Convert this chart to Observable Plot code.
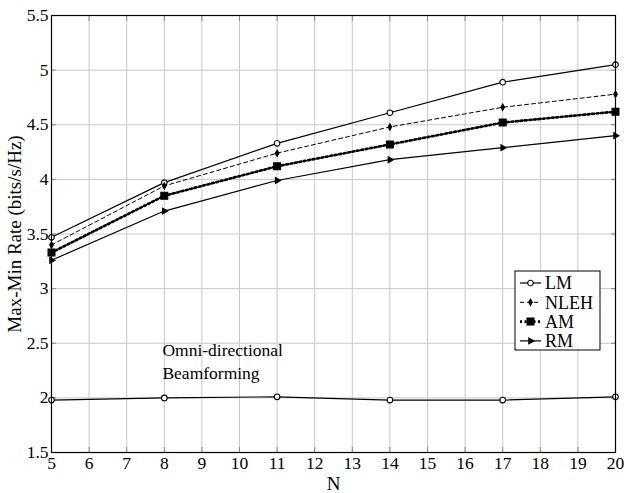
<!DOCTYPE html>
<html><head><meta charset="utf-8">
<script src="https://cdn.jsdelivr.net/npm/d3@7"></script>
<script src="https://cdn.jsdelivr.net/npm/@observablehq/plot@0.6"></script>
<style>
body{margin:0;background:#fff;}
#wrap{position:relative;width:624px;height:493px;font-family:"Liberation Serif","Times New Roman","DejaVu Serif",serif;}
#wrap svg text{font-family:"Liberation Serif","Times New Roman","DejaVu Serif",serif !important;}
#legend{position:absolute;left:0;top:0;}
</style>
</head><body><div id="wrap"></div>
<script>
const N = [5, 8, 11, 14, 17, 20];
const LM = [3.47, 3.97, 4.33, 4.61, 4.89, 5.05];
const NLEH = [3.40, 3.94, 4.24, 4.48, 4.66, 4.78];
const AM = [3.33, 3.85, 4.12, 4.32, 4.52, 4.62];
const RM = [3.26, 3.71, 3.99, 4.18, 4.29, 4.40];
const OMNI_LM = [1.98, 2.00, 2.01, 1.98, 1.98, 2.01];
const xTicks = d3.range(5, 21, 1);
const yTicks = [1.5, 2, 2.5, 3, 3.5, 4, 4.5, 5, 5.5];
const annotation = [{x: 7.95, y: 2.345, text: "Omni-directional\nBeamforming"}];

const FONT = "'Liberation Serif', 'Times New Roman', 'DejaVu Serif', serif";
const FS = 17.5;
const seriesDefs = [
  {name: "LM", values: LM, dash: null, width: 1.2, symbol: "circle", r: 2.8, fill: "white", rotate: 0},
  {name: "NLEH", values: NLEH, dash: "4,3", width: 1, symbol: "diamond", r: 1.9, fill: "black", rotate: 0},
  {name: "AM", values: AM, dash: "2,2.5", width: 2.6, symbol: "square", r: 3.9, fill: "black", rotate: 0},
  {name: "RM", values: RM, dash: null, width: 1.2, symbol: "triangle", r: 2.2, fill: "black", rotate: 90}
];
const toRows = (vals, name) => N.map((n, i) => ({N: n, v: vals[i], s: name}));

const marks = [
  Plot.gridX(xTicks, {stroke: "#c8c8c8", strokeOpacity: 1}),
  Plot.gridY(yTicks, {stroke: "#c8c8c8", strokeOpacity: 1}),
  Plot.axisX(xTicks, {anchor: "bottom", tickSize: 0, tickPadding: 4, fontSize: FS, tickFormat: d => d, label: null}),
  Plot.axisY(yTicks, {anchor: "left", tickSize: 0, tickPadding: 3, fontSize: FS, tickFormat: d => d, label: null}),
  Plot.axisX(xTicks, {anchor: "bottom", tickSize: 0, text: null, fontSize: 19, label: "N", labelAnchor: "center", labelOffset: 37, labelArrow: "none"}),
  Plot.axisY(yTicks, {anchor: "left", tickSize: 0, text: null, fontSize: 19, label: "Max-Min Rate (bits/s/Hz)", labelAnchor: "center", labelOffset: 44, labelArrow: "none"}),
  Plot.axisX(xTicks, {anchor: "bottom", tickSize: -5, text: null, label: null, stroke: "#888"}),
  Plot.axisX(xTicks, {anchor: "top", tickSize: -5, text: null, label: null, stroke: "#888"}),
  Plot.axisY(yTicks, {anchor: "left", tickSize: -5, text: null, label: null, stroke: "#888"}),
  Plot.axisY(yTicks, {anchor: "right", tickSize: -5, text: null, label: null, stroke: "#888"}),
];
for (const s of seriesDefs) {
  const rows = toRows(s.values, s.name);
  marks.push(Plot.line(rows, {x: "N", y: "v", stroke: "black", strokeWidth: s.width, strokeDasharray: s.dash}));
}
marks.push(Plot.line(toRows(OMNI_LM, "LM"), {x: "N", y: "v", stroke: "black", strokeWidth: 1.2}));
for (const s of seriesDefs) {
  const rows = toRows(s.values, s.name);
  marks.push(Plot.dot(rows, {x: "N", y: "v", symbol: () => s.symbol, r: s.r, fill: s.fill, stroke: "black", strokeWidth: 1.1, rotate: s.rotate}));
}
marks.push(Plot.dot(toRows(OMNI_LM, "LM"), {x: "N", y: "v", symbol: "circle", r: 2.8, fill: "white", stroke: "black", strokeWidth: 1.1}));
marks.push(Plot.text(annotation, {x: "x", y: "y", text: "text", textAnchor: "start", lineAnchor: "middle", fontSize: FS, lineHeight: 1.3, fill: "black"}));
marks.push(Plot.frame({stroke: "black", strokeWidth: 1.2}));

const chart = Plot.plot({
  width: 624, height: 493,
  marginLeft: 51, marginRight: 9, marginTop: 15, marginBottom: 41,
  style: {fontFamily: FONT, fontSize: FS + "px", color: "black", background: "white"},
  x: {domain: [5, 20], type: "linear"},
  y: {domain: [1.5, 5.5], type: "linear"},
  marks
});
const wrap = document.getElementById("wrap");
wrap.appendChild(chart);

// legend overlay
const lg = d3.select(wrap).append("svg").attr("id", "legend").attr("width", 624).attr("height", 493)
  .style("font-family", FONT);
const bx = 515, by = 271, bw = 85, bh = 79;
lg.append("rect").attr("x", bx).attr("y", by).attr("width", bw).attr("height", bh).attr("fill", "white").attr("stroke", "black").attr("stroke-width", 1);
const symMap = {circle: d3.symbolCircle, diamond: d3.symbolDiamond, square: d3.symbolSquare, triangle: d3.symbolTriangle};
seriesDefs.forEach((s, i) => {
  const y = by + 12 + i * 19.3;
  lg.append("line").attr("x1", bx + 5).attr("x2", bx + 26).attr("y1", y).attr("y2", y)
    .attr("stroke", "black").attr("stroke-width", s.width).attr("stroke-dasharray", s.dash);
  lg.append("path").attr("d", d3.symbol(symMap[s.symbol], Math.PI * s.r * s.r)())
    .attr("transform", `translate(${bx + 15.5},${y}) rotate(${s.rotate})`)
    .attr("fill", s.fill).attr("stroke", "black").attr("stroke-width", 1.1);
  lg.append("text").attr("x", bx + 30).attr("y", y).attr("dy", "0.35em").attr("font-size", FS + 0.5).text(s.name);
});
</script></body></html>
